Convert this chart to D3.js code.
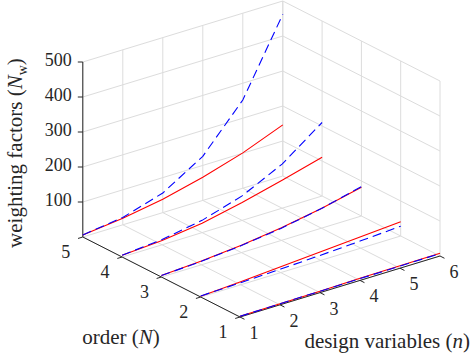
<!DOCTYPE html>
<html>
<head>
<meta charset="utf-8">
<script src="https://cdn.jsdelivr.net/npm/d3@7"></script>
<style>
  body { margin: 0; background: #fff; }
  svg { display: block; }
  text { font-family: "Liberation Serif", serif; }
</style>
</head>
<body>
<svg id="chart" width="472" height="360"></svg>
<script>
// design variables (n), order (N), z ticks
const designVars = [1, 2, 3, 4, 5, 6];
const orders = [1, 2, 3, 4, 5];
const zTicks = [100, 200, 300, 400, 500];

// blue dashed series, one per order N
const blueN1 = [2, 3, 4, 5, 6, 7];
const blueN2 = [3, 6, 10, 15, 21, 28];
const blueN3 = [4, 10, 20, 35, 56, 84];
const blueN4 = [5, 15, 35, 70, 126, 210];
const blueN5 = [6, 21, 56, 126, 252, 462];

// red solid series, one per order N
const redN1 = [2, 3, 4, 6, 7, 8];
const redN2 = [2, 9, 17, 25, 33, 41];
const redN3 = [4, 11, 21, 36, 56, 82];
const redN4 = [5, 12, 27, 51, 80, 111];
const redN5 = [6, 19, 38, 66, 101, 146];

const blueSeries = [blueN1, blueN2, blueN3, blueN4, blueN5];
const redSeries = [redN1, redN2, redN3, redN4, redN5];

const svg = d3.select('#chart');

// Projection (screen vectors spanning each axis)
const origin = [240, 317];
const nVec = [200, -61];
const NVec = [-157.2, -80];
const zVec = [0, -175];

const nScale = d3.scaleLinear().domain([1, 6]).range([0, 1]);
const NScale = d3.scaleLinear().domain([1, 5]).range([0, 1]);
const zScale = d3.scaleLinear().domain([0, 500]).range([0, 1]);

function proj(n, N, z) {
    const a = nScale(n), b = NScale(N), c = zScale(z);
    return [
        origin[0] + a * nVec[0] + b * NVec[0] + c * zVec[0],
        origin[1] + a * nVec[1] + b * NVec[1] + c * zVec[1],
    ];
}

const seg = d3.line();
const gridColor = '#dcdcdc';
const axisColor = '#262626';

const [nMin, nMax] = nScale.domain();
const [NMin, NMax] = NScale.domain();
const [zMin, zMax] = zScale.domain();

// Grid lines
const grid = svg.append('g').attr('class', 'grid')
    .style('stroke', gridColor).style('fill', 'none').style('stroke-width', 1);

const gridSegs = [];
designVars.forEach(n => {
    gridSegs.push([proj(n, NMin, 0), proj(n, NMax, 0)]);           // floor
    gridSegs.push([proj(n, NMax, zMin), proj(n, NMax, zMax)]);     // back wall
});
orders.forEach(N => {
    gridSegs.push([proj(nMin, N, 0), proj(nMax, N, 0)]);           // floor
    gridSegs.push([proj(nMax, N, zMin), proj(nMax, N, zMax)]);     // side wall
});
zTicks.forEach(z => {
    gridSegs.push([proj(nMin, NMax, z), proj(nMax, NMax, z)]);
    gridSegs.push([proj(nMax, NMax, z), proj(nMax, NMin, z)]);
});

grid.selectAll('path').data(gridSegs).enter().append('path').attr('d', d => seg(d));

// Axis lines and ticks
const axes = svg.append('g').attr('class', 'axes')
    .style('stroke', axisColor).style('fill', 'none').style('stroke-width', 1);

axes.append('path').attr('d', seg([proj(nMin, NMax, zMin), proj(nMin, NMax, zMax)]));
axes.append('path').attr('d', seg([proj(nMin, NMax, 0), proj(nMin, NMin, 0)]));
axes.append('path').attr('d', seg([proj(nMin, NMin, 0), proj(nMax, NMin, 0)]));

const tickLen = 5;
const nDir = [-nVec[0], -nVec[1]];
const nLen = Math.hypot(nDir[0], nDir[1]);
const NDir = [-NVec[0], -NVec[1]];
const NLen = Math.hypot(NDir[0], NDir[1]);

axes.selectAll('path.ztick').data(zTicks).enter().append('path')
    .attr('class', 'ztick')
    .attr('d', z => { const p = proj(nMin, NMax, z); return seg([p, [p[0] - tickLen, p[1]]]); });

axes.selectAll('path.Ntick').data(orders).enter().append('path')
    .attr('class', 'Ntick')
    .attr('d', N => {
        const p = proj(nMin, N, 0);
        return seg([p, [p[0] + nDir[0] / nLen * tickLen, p[1] + nDir[1] / nLen * tickLen]]);
    });

axes.selectAll('path.ntick').data(designVars).enter().append('path')
    .attr('class', 'ntick')
    .attr('d', n => {
        const p = proj(n, NMin, 0);
        return seg([p, [p[0] + NDir[0] / NLen * tickLen, p[1] + NDir[1] / NLen * tickLen]]);
    });

// Tick labels (font set on each text directly)
const labels = svg.append('g').attr('class', 'tick-labels');

function tickText(sel) {
    sel.attr('font-family', 'Liberation Serif')
        .style('font-family', '"Liberation Serif", serif')
        .style('font-size', '18px')
        .style('fill', axisColor)
        .style('stroke', 'none')
        .text(d => String(d));
}

labels.selectAll('text.z').data(zTicks).enter().append('text')
    .attr('class', 'z')
    .attr('x', z => proj(nMin, NMax, z)[0] - 11)
    .attr('y', z => proj(nMin, NMax, z)[1] + 4)
    .attr('text-anchor', 'end')
    .call(tickText);

labels.selectAll('text.N').data(orders).enter().append('text')
    .attr('class', 'N')
    .attr('x', N => proj(nMin, N, 0)[0] - 17)
    .attr('y', N => proj(nMin, N, 0)[1] + 21)
    .attr('text-anchor', 'middle')
    .call(tickText);

labels.selectAll('text.n').data(designVars).enter().append('text')
    .attr('class', 'n')
    .attr('x', n => proj(n, NMin, 0)[0] + 14)
    .attr('y', n => proj(n, NMin, 0)[1] + 22)
    .attr('text-anchor', 'middle')
    .call(tickText);

// Axis titles
const titles = svg.append('g').attr('class', 'titles')
    .style('font-size', '21px').style('fill', axisColor);

const zTitle = titles.append('text')
    .attr('transform', 'translate(22, 153) rotate(-90)')
    .attr('text-anchor', 'middle');
zTitle.append('tspan').text('weighting factors (');
zTitle.append('tspan').style('font-style', 'italic').text('N');
zTitle.append('tspan').attr('dy', 5).style('font-size', '14px').text('w');
zTitle.append('tspan').attr('dy', -5).text(')');

const NTitle = titles.append('text')
    .attr('x', 121).attr('y', 344)
    .attr('text-anchor', 'middle');
NTitle.append('tspan').text('order (');
NTitle.append('tspan').style('font-style', 'italic').text('N');
NTitle.append('tspan').text(')');

const nTitle = titles.append('text')
    .attr('x', 470).attr('y', 348)
    .attr('text-anchor', 'end');
nTitle.append('tspan').text('design variables (');
nTitle.append('tspan').style('font-style', 'italic').text('n');
nTitle.append('tspan').text(')');

// Data lines
const line3d = N => d3.line()
    .x((v, i) => proj(designVars[i], N, v)[0])
    .y((v, i) => proj(designVars[i], N, v)[1]);

const data = svg.append('g').attr('class', 'data').style('fill', 'none');

data.selectAll('path.red').data(redSeries).enter().append('path')
    .attr('class', 'red')
    .attr('d', (d, i) => line3d(orders[i])(d))
    .style('stroke', '#ff0000')
    .style('stroke-width', 1.1);

data.selectAll('path.blue').data(blueSeries).enter().append('path')
    .attr('class', 'blue')
    .attr('d', (d, i) => line3d(orders[i])(d))
    .style('stroke', '#0000ff')
    .style('stroke-width', 1.1)
    .style('stroke-dasharray', '9 5');
</script>
</body>
</html>
